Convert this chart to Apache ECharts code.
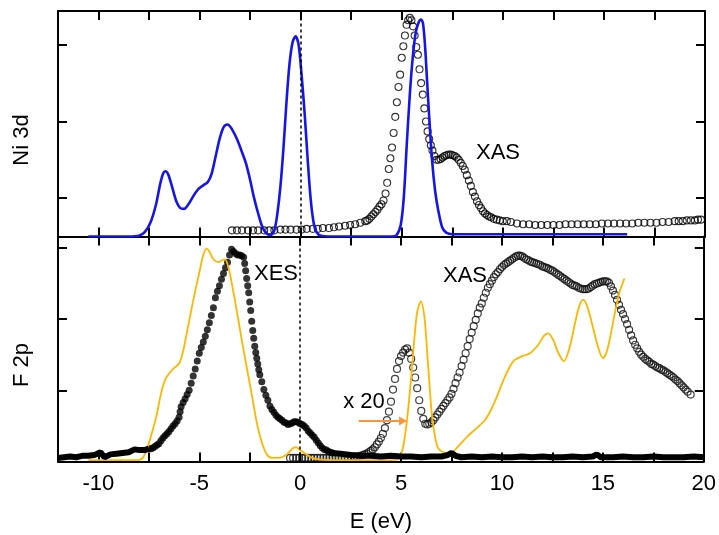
<!DOCTYPE html>
<html>
<head>
<meta charset="utf-8">
<script src="https://cdn.jsdelivr.net/npm/echarts@6/dist/echarts.min.js"></script>
<style>
  html, body { margin: 0; padding: 0; background: #fff; }
  #chart { width: 719px; height: 535px; }
</style>
</head>
<body>
<div id="chart"></div>
<script>
// x ticks every 2.5 eV, labels every 5 eV
const tickVals = [-10, -7.5, -5, -2.5, 0, 2.5, 5, 7.5, 10, 12.5, 15, 17.5, 20]
const labelVals = [-10, -5, 0, 5, 10, 15, 20]
const niTicks = [0.5, 1.5, 2.5]
const fTicks = [1, 2, 3]

// Ni 3d calculated DOS (blue)
const niCalc = [
  [-10.5, 0], [-8.5, 0], [-8.0, 0.01], [-7.7, 0.06], [-7.4, 0.2], [-7.15, 0.42], [-6.95, 0.68],
  [-6.8, 0.82], [-6.69, 0.85], [-6.55, 0.81], [-6.35, 0.64], [-6.15, 0.46], [-5.95, 0.37],
  [-5.77, 0.36], [-5.55, 0.42], [-5.3, 0.53], [-5.05, 0.62], [-4.8, 0.67], [-4.59, 0.71],
  [-4.4, 0.82], [-4.2, 1.05], [-4.0, 1.28], [-3.8, 1.43], [-3.61, 1.46], [-3.4, 1.4],
  [-3.15, 1.27], [-2.9, 1.1], [-2.7, 0.95], [-2.5, 0.74], [-2.3, 0.5], [-2.1, 0.3],
  [-1.9, 0.13], [-1.7, 0.04], [-1.48, 0.02], [-1.3, 0.08], [-1.15, 0.3], [-1.0, 0.65],
  [-0.85, 1.15], [-0.7, 1.75], [-0.55, 2.25], [-0.4, 2.53], [-0.25, 2.61], [-0.1, 2.5],
  [0.05, 2.1], [0.2, 1.6], [0.35, 1.0], [0.5, 0.48], [0.65, 0.17], [0.8, 0.05], [1.0, 0.01],
  [1.5, 0], [4.5, 0], [4.75, 0.02], [4.95, 0.15], [5.1, 0.5], [5.25, 1.2], [5.4, 1.85],
  [5.55, 2.35], [5.7, 2.67], [5.85, 2.8], [5.95, 2.83], [6.05, 2.78], [6.15, 2.5],
  [6.25, 2.05], [6.35, 1.6], [6.5, 1.0], [6.65, 0.6], [6.8, 0.35], [7.0, 0.12], [7.2, 0.05],
  [7.5, 0.03], [16.15, 0.03]
]

// Ni L-edge XAS (open circles, top)
const niXas = [
  [-3.4, 0.08], [-3.15, 0.08], [-2.9, 0.08], [-2.6, 0.08], [-2.35, 0.08], [-2.1, 0.08],
  [-1.8, 0.08], [-1.55, 0.08], [-1.3, 0.08], [-1.0, 0.09], [-0.75, 0.09], [-0.5, 0.09],
  [-0.2, 0.09], [0.05, 0.09], [0.3, 0.1], [0.6, 0.1], [0.85, 0.1], [1.1, 0.11], [1.4, 0.11],
  [1.65, 0.12], [1.9, 0.13], [2.2, 0.14], [2.45, 0.15], [2.7, 0.16], [2.95, 0.18], [3.2, 0.2],
  [3.3, 0.21], [3.4, 0.23], [3.5, 0.26], [3.6, 0.29], [3.7, 0.32], [3.8, 0.35], [3.9, 0.39],
  [4.0, 0.42], [4.1, 0.47], [4.2, 0.56], [4.28, 0.7], [4.36, 0.88], [4.44, 1.02], [4.52, 1.16],
  [4.6, 1.35], [4.68, 1.56], [4.76, 1.75], [4.84, 1.95], [4.92, 2.11], [5.0, 2.33], [5.08, 2.48],
  [5.16, 2.62], [5.24, 2.76], [5.32, 2.82], [5.4, 2.85], [5.48, 2.82], [5.56, 2.74], [5.64, 2.62],
  [5.72, 2.47], [5.8, 2.37], [5.88, 2.18], [5.96, 2.0], [6.04, 1.85], [6.12, 1.67], [6.2, 1.5],
  [6.28, 1.37], [6.36, 1.27], [6.44, 1.19], [6.52, 1.12], [6.62, 1.05], [6.72, 1.0], [6.82, 1.0],
  [6.92, 1.01], [7.02, 1.03], [7.12, 1.05], [7.22, 1.06], [7.32, 1.07], [7.42, 1.07], [7.52, 1.06],
  [7.62, 1.05], [7.72, 1.03], [7.82, 1.0], [7.92, 0.96], [8.02, 0.92], [8.12, 0.87], [8.22, 0.8],
  [8.32, 0.73], [8.42, 0.66], [8.52, 0.58], [8.62, 0.52], [8.72, 0.46], [8.82, 0.41], [8.92, 0.37],
  [9.02, 0.33], [9.12, 0.3], [9.22, 0.28], [9.32, 0.26], [9.42, 0.25], [9.55, 0.23], [9.7, 0.22],
  [9.85, 0.21], [10.0, 0.2], [10.2, 0.2], [10.4, 0.19], [10.7, 0.17], [11.0, 0.16], [11.3, 0.16],
  [11.6, 0.15], [11.9, 0.15], [12.2, 0.15], [12.5, 0.15], [12.8, 0.15], [13.1, 0.16], [13.4, 0.16],
  [13.7, 0.16], [14.0, 0.16], [14.3, 0.16], [14.6, 0.16], [14.9, 0.17], [15.2, 0.17], [15.5, 0.17],
  [15.8, 0.17], [16.1, 0.17], [16.4, 0.17], [16.7, 0.18], [17.0, 0.18], [17.3, 0.18], [17.6, 0.18],
  [17.9, 0.19], [18.2, 0.19], [18.5, 0.2], [18.7, 0.2], [18.9, 0.2], [19.1, 0.21], [19.3, 0.21],
  [19.5, 0.21], [19.65, 0.22], [19.8, 0.22]
]

// F 2p calculated DOS (orange)
const fCalc = [
  [-10.5, 0.02], [-8.0, 0.02], [-7.8, 0.05], [-7.63, 0.15], [-7.45, 0.3], [-7.3, 0.45],
  [-7.13, 0.63], [-6.95, 0.88], [-6.81, 1.05], [-6.65, 1.17], [-6.48, 1.24], [-6.25, 1.31],
  [-5.99, 1.38], [-5.8, 1.55], [-5.65, 1.76], [-5.49, 1.99], [-5.25, 2.33], [-5.0, 2.65],
  [-4.8, 2.9], [-4.64, 2.99], [-4.5, 2.95], [-4.3, 2.84], [-4.05, 2.8], [-3.85, 2.83],
  [-3.72, 2.84], [-3.55, 2.72], [-3.36, 2.46], [-3.1, 2.05], [-2.87, 1.67], [-2.6, 1.25],
  [-2.38, 0.91], [-2.15, 0.55], [-1.89, 0.26], [-1.65, 0.1], [-1.4, 0.05], [-1.1, 0.05],
  [-0.82, 0.07], [-0.55, 0.13], [-0.35, 0.19], [-0.2, 0.2], [-0.05, 0.17], [0.25, 0.11],
  [0.6, 0.05], [0.9, 0.03], [1.5, 0.02], [4.6, 0.02], [4.9, 0.05], [5.1, 0.2], [5.3, 0.6],
  [5.49, 1.15], [5.65, 1.7], [5.8, 2.1], [5.98, 2.25], [6.15, 2.05], [6.28, 1.6], [6.39, 1.15],
  [6.55, 0.6], [6.8, 0.21], [7.1, 0.13], [7.46, 0.12], [7.85, 0.22], [8.28, 0.35], [8.75, 0.47],
  [9.18, 0.59], [9.5, 0.75], [9.75, 0.91], [10.16, 1.2], [10.57, 1.41], [11.0, 1.48],
  [11.39, 1.52], [11.8, 1.64], [12.1, 1.77], [12.3, 1.8], [12.55, 1.7], [12.8, 1.52],
  [13.07, 1.41], [13.35, 1.6], [13.65, 1.98], [13.85, 2.2], [14.02, 2.27], [14.2, 2.2],
  [14.45, 1.95], [14.75, 1.62], [15.0, 1.45], [15.2, 1.55], [15.4, 1.8], [15.66, 2.18],
  [15.85, 2.4], [16.07, 2.57]
]

// F K-edge XES (filled dots), main part
const xesMain = [
  [-7.5, 0.18], [-7.4, 0.18], [-7.3, 0.19], [-7.2, 0.21], [-7.1, 0.23], [-7.0, 0.25], [-6.9, 0.29],
  [-6.8, 0.33], [-6.7, 0.36], [-6.6, 0.39], [-6.5, 0.42], [-6.4, 0.46], [-6.3, 0.5], [-6.2, 0.53],
  [-6.1, 0.57], [-6.0, 0.62], [-5.95, 0.7], [-5.9, 0.77], [-5.8, 0.83], [-5.7, 0.88], [-5.6, 0.94],
  [-5.5, 1.0], [-5.4, 1.1], [-5.3, 1.2], [-5.2, 1.3], [-5.1, 1.41], [-5.0, 1.52], [-4.9, 1.6],
  [-4.8, 1.68], [-4.7, 1.76], [-4.6, 1.85], [-4.5, 1.95], [-4.4, 2.05], [-4.3, 2.16], [-4.2, 2.3],
  [-4.1, 2.39], [-4.0, 2.47], [-3.9, 2.56], [-3.8, 2.64], [-3.7, 2.72], [-3.6, 2.8], [-3.5, 2.9],
  [-3.4, 2.98], [-3.3, 2.95], [-3.2, 2.92], [-3.1, 2.9], [-3.0, 2.9], [-2.9, 2.89], [-2.8, 2.87],
  [-2.75, 2.78], [-2.7, 2.68], [-2.65, 2.57], [-2.6, 2.47], [-2.55, 2.37], [-2.5, 2.24],
  [-2.45, 2.12], [-2.4, 1.97], [-2.35, 1.84], [-2.3, 1.73], [-2.25, 1.62], [-2.2, 1.53],
  [-2.15, 1.45], [-2.1, 1.37], [-2.05, 1.29], [-2.0, 1.22], [-1.9, 1.12], [-1.8, 1.01],
  [-1.7, 0.93], [-1.6, 0.86], [-1.5, 0.78], [-1.4, 0.73], [-1.3, 0.69], [-1.2, 0.65], [-1.1, 0.62],
  [-1.0, 0.6], [-0.9, 0.58], [-0.8, 0.55], [-0.7, 0.54], [-0.6, 0.52], [-0.5, 0.53], [-0.4, 0.54],
  [-0.3, 0.56], [-0.2, 0.56], [-0.1, 0.55], [0.0, 0.53], [0.1, 0.52], [0.2, 0.5], [0.3, 0.47],
  [0.4, 0.43], [0.5, 0.4], [0.6, 0.37], [0.7, 0.34], [0.8, 0.3], [0.9, 0.26], [1.0, 0.22],
  [1.1, 0.19], [1.2, 0.17], [1.3, 0.16], [1.4, 0.14], [1.5, 0.13], [1.6, 0.12]
]
// XES flat tails (dense dots, drawn as a thick band)
const xesTailLeft = [
  [-12, 0.05], [-11.7, 0.06], [-11.4, 0.07], [-11.1, 0.06], [-10.8, 0.08], [-10.5, 0.08],
  [-10.2, 0.09], [-9.9, 0.13], [-9.7, 0.06], [-9.4, 0.1], [-9.1, 0.11], [-8.8, 0.12],
  [-8.5, 0.13], [-8.2, 0.17], [-7.95, 0.16], [-7.7, 0.16], [-7.5, 0.18]
]
const xesTailRight = [
  [1.6, 0.12], [2.0, 0.11], [2.5, 0.09], [3.0, 0.08], [3.5, 0.08], [4.0, 0.07], [4.5, 0.08],
  [5.0, 0.07], [5.5, 0.07], [6.0, 0.06], [6.5, 0.07], [7.0, 0.07], [7.3, 0.09], [7.5, 0.12],
  [7.7, 0.08], [8.0, 0.06], [8.5, 0.07], [9.0, 0.06], [9.5, 0.07], [10.0, 0.06], [10.5, 0.06],
  [11.0, 0.07], [11.5, 0.06], [12.0, 0.07], [12.5, 0.06], [13.0, 0.06], [13.5, 0.07], [14.0, 0.06],
  [14.5, 0.07], [14.7, 0.1], [14.9, 0.06], [15.5, 0.06], [16.0, 0.07], [16.5, 0.06], [17.0, 0.06],
  [17.5, 0.07], [18.0, 0.06], [18.5, 0.06], [19.0, 0.06], [19.5, 0.07], [20.0, 0.06]
]

// F K-edge XAS x20 (open circles, bottom)
const fXas = [
  [-0.5, 0.05], [-0.35, 0.05], [-0.2, 0.05], [-0.05, 0.05], [0.1, 0.05], [0.25, 0.05], [0.4, 0.05],
  [0.55, 0.05], [0.7, 0.05], [0.85, 0.05], [1.0, 0.05], [1.15, 0.05], [1.3, 0.05], [1.45, 0.05],
  [1.6, 0.06], [1.75, 0.06], [1.9, 0.06], [2.05, 0.06], [2.2, 0.06], [2.35, 0.06], [2.5, 0.07],
  [2.65, 0.07], [2.8, 0.07], [2.95, 0.08], [3.1, 0.09], [3.2, 0.1], [3.3, 0.11], [3.4, 0.13],
  [3.5, 0.15], [3.6, 0.17], [3.7, 0.2], [3.8, 0.24], [3.9, 0.28], [4.0, 0.33], [4.1, 0.39],
  [4.2, 0.47], [4.3, 0.58], [4.4, 0.7], [4.5, 0.84], [4.6, 1.01], [4.7, 1.16], [4.8, 1.3],
  [4.9, 1.41], [5.0, 1.48], [5.1, 1.53], [5.2, 1.57], [5.3, 1.59], [5.4, 1.53], [5.5, 1.44],
  [5.6, 1.32], [5.7, 1.18], [5.8, 1.03], [5.9, 0.86], [6.0, 0.71], [6.1, 0.6], [6.2, 0.53],
  [6.3, 0.52], [6.4, 0.53], [6.5, 0.55], [6.6, 0.58], [6.7, 0.62], [6.8, 0.66], [6.9, 0.7],
  [7.0, 0.74], [7.1, 0.78], [7.2, 0.82], [7.3, 0.86], [7.4, 0.9], [7.5, 0.95], [7.6, 1.02],
  [7.7, 1.1], [7.8, 1.18], [7.9, 1.25], [8.0, 1.34], [8.1, 1.43], [8.2, 1.52], [8.3, 1.62],
  [8.4, 1.72], [8.5, 1.81], [8.6, 1.9], [8.7, 1.99], [8.8, 2.08], [8.9, 2.16], [9.0, 2.22],
  [9.1, 2.3], [9.2, 2.37], [9.3, 2.44], [9.4, 2.49], [9.5, 2.54], [9.6, 2.59], [9.7, 2.63],
  [9.8, 2.66], [9.9, 2.7], [10.0, 2.73], [10.1, 2.76], [10.2, 2.78], [10.3, 2.8], [10.4, 2.82],
  [10.5, 2.84], [10.6, 2.86], [10.7, 2.88], [10.8, 2.89], [10.9, 2.89], [11.0, 2.88], [11.1, 2.86],
  [11.2, 2.84], [11.3, 2.83], [11.4, 2.81], [11.5, 2.8], [11.6, 2.79], [11.7, 2.78], [11.8, 2.77],
  [11.9, 2.76], [12.0, 2.74], [12.1, 2.73], [12.2, 2.72], [12.3, 2.71], [12.4, 2.69], [12.5, 2.68],
  [12.6, 2.66], [12.7, 2.64], [12.8, 2.62], [12.9, 2.6], [13.0, 2.58], [13.1, 2.56], [13.2, 2.54],
  [13.3, 2.52], [13.4, 2.5], [13.5, 2.48], [13.6, 2.47], [13.7, 2.46], [13.8, 2.44], [13.9, 2.43],
  [14.0, 2.42], [14.1, 2.42], [14.2, 2.42], [14.3, 2.43], [14.4, 2.45], [14.5, 2.47], [14.6, 2.49],
  [14.7, 2.5], [14.8, 2.51], [14.9, 2.52], [15.0, 2.53], [15.1, 2.53], [15.2, 2.53], [15.3, 2.51],
  [15.4, 2.46], [15.5, 2.4], [15.6, 2.34], [15.7, 2.27], [15.8, 2.2], [15.9, 2.13], [16.0, 2.07],
  [16.1, 2.0], [16.2, 1.93], [16.3, 1.85], [16.4, 1.77], [16.5, 1.7], [16.6, 1.64], [16.7, 1.59],
  [16.8, 1.54], [16.9, 1.5], [17.0, 1.47], [17.1, 1.44], [17.2, 1.42], [17.3, 1.4], [17.4, 1.37],
  [17.5, 1.36], [17.6, 1.34], [17.7, 1.32], [17.8, 1.31], [17.9, 1.29], [18.0, 1.28], [18.1, 1.26],
  [18.2, 1.24], [18.3, 1.22], [18.4, 1.2], [18.5, 1.18], [18.6, 1.15], [18.7, 1.13], [18.8, 1.1],
  [18.9, 1.07], [19.0, 1.04], [19.1, 1.01], [19.2, 0.98], [19.35, 0.94]
]

const font = 'Liberation Sans, Arial, sans-serif'
const frame = { show: true, onZero: false, lineStyle: { color: '#000', width: 2 } }
const tick = { show: true, inside: true, length: 9, lineStyle: { color: '#000', width: 2 } }

function xAxis(grid, position, withLabels) {
  return {
    type: 'value', gridIndex: grid, position: position,
    min: -12, max: 20,
    axisLine: frame,
    axisTick: Object.assign({ customValues: tickVals }, tick),
    axisLabel: withLabels
      ? { show: true, customValues: labelVals, color: '#000', fontSize: 22, fontFamily: font, margin: 11 }
      : { show: false },
    splitLine: { show: false }
  }
}
function yAxis(grid, position, max, ticks) {
  return {
    type: 'value', gridIndex: grid, position: position,
    min: 0, max: max,
    axisLine: frame,
    axisTick: Object.assign({ customValues: ticks }, tick),
    axisLabel: { show: false },
    splitLine: { show: false }
  }
}

const chart = echarts.init(document.getElementById('chart'), null, { renderer: 'canvas' })

chart.setOption({
  animation: false,
  backgroundColor: '#fff',
  grid: [
    { left: 58, right: 14, top: 11, height: 225.5 }, // Ni 3d
    { left: 58, right: 14, top: 236.5, height: 225 } // F 2p
  ],
  xAxis: [
    xAxis(0, 'bottom', false),
    xAxis(0, 'top', false),
    xAxis(1, 'top', false),
    Object.assign(xAxis(1, 'bottom', true), {
      name: 'E (eV)', nameLocation: 'middle', nameGap: 49,
      nameTextStyle: { color: '#000', fontSize: 22, fontFamily: font }
    })
  ],
  yAxis: [
    yAxis(0, 'left', 2.94, niTicks),
    yAxis(0, 'right', 2.94, niTicks),
    yAxis(1, 'left', 3.16, fTicks),
    yAxis(1, 'right', 3.16, fTicks)
  ],
  graphic: [
    { type: 'text', x: 22, y: 140, rotation: Math.PI / 2,
      style: { text: 'Ni 3d', font: '22px ' + font, fill: '#000', align: 'center', verticalAlign: 'middle' } },
    { type: 'text', x: 22, y: 365, rotation: Math.PI / 2,
      style: { text: 'F 2p', font: '22px ' + font, fill: '#000', align: 'center', verticalAlign: 'middle' } },
    { type: 'text', x: 498, y: 153,
      style: { text: 'XAS', font: '22px ' + font, fill: '#000', align: 'center', verticalAlign: 'middle' } },
    { type: 'text', x: 276, y: 274,
      style: { text: 'XES', font: '22px ' + font, fill: '#000', align: 'center', verticalAlign: 'middle' } },
    { type: 'text', x: 465, y: 276,
      style: { text: 'XAS', font: '22px ' + font, fill: '#000', align: 'center', verticalAlign: 'middle' } },
    { type: 'text', x: 364, y: 402,
      style: { text: 'x 20', font: '22px ' + font, fill: '#000', align: 'center', verticalAlign: 'middle' } }
  ],
  series: [
    {
      name: 'Ni XAS', type: 'scatter', xAxisIndex: 0, yAxisIndex: 0,
      data: niXas, symbol: 'circle', symbolSize: 7,
      itemStyle: { color: 'rgba(255,255,255,0)', borderColor: '#000', borderWidth: 1.1 }
    },
    {
      name: 'Ni 3d', type: 'line', xAxisIndex: 0, yAxisIndex: 0,
      data: niCalc, smooth: 0.3, showSymbol: false,
      lineStyle: { color: '#1515E8', width: 2.6 },
      markLine: {
        silent: true, symbol: ['none', 'none'], label: { show: false },
        lineStyle: { color: '#000', width: 1.5, type: [3, 3] },
        data: [{ xAxis: 0 }]
      }
    },
    {
      name: 'F XAS', type: 'scatter', xAxisIndex: 3, yAxisIndex: 2,
      data: fXas, symbol: 'circle', symbolSize: 7,
      itemStyle: { color: 'rgba(255,255,255,0)', borderColor: '#111', borderWidth: 1.2 }
    },
    {
      name: 'F 2p', type: 'line', xAxisIndex: 3, yAxisIndex: 2,
      data: fCalc, smooth: 0.3, showSymbol: false,
      lineStyle: { color: '#FFB600', width: 1.8 },
      markLine: {
        silent: true, symbol: ['none', 'none'], label: { show: false },
        lineStyle: { color: '#000', width: 1.5, type: [3, 3] },
        data: [
          { xAxis: 0 },
          [
            { coord: [2.9, 0.57], symbol: 'none', lineStyle: { color: '#F7963C', width: 2, type: 'solid' } },
            { coord: [5.1, 0.57], symbol: 'triangle', symbolSize: [9, 8], symbolRotate: -90 }
          ]
        ]
      }
    },
    {
      name: 'XES tail L', type: 'line', xAxisIndex: 3, yAxisIndex: 2,
      data: xesTailLeft, showSymbol: false,
      lineStyle: { color: '#000', width: 6 }
    },
    {
      name: 'XES tail R', type: 'line', xAxisIndex: 3, yAxisIndex: 2,
      data: xesTailRight, showSymbol: false,
      lineStyle: { color: '#000', width: 6 }
    },
    {
      name: 'XES', type: 'scatter', xAxisIndex: 3, yAxisIndex: 2,
      data: xesMain, symbol: 'circle', symbolSize: 7,
      itemStyle: { color: '#000' }
    }
  ]
})
</script>
</body>
</html>
